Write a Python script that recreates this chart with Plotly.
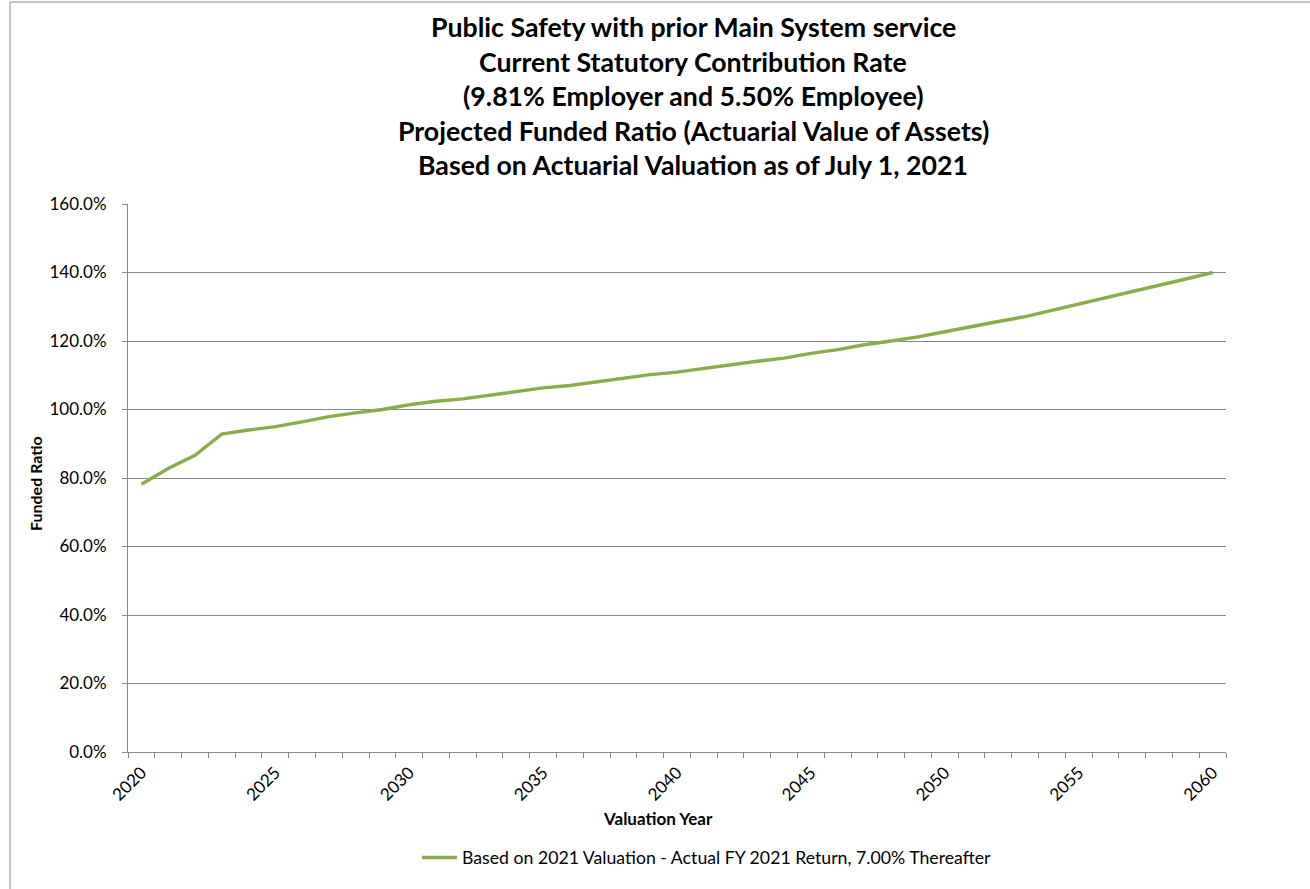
import plotly.graph_objects as go

# Projected funded ratio by valuation year (percent)
years = list(range(2020, 2061))
funded_ratio = [
    78.2, 82.8, 86.6, 92.8, 94.0, 95.0, 96.4, 97.9, 99.0, 100.0,
    101.4, 102.4, 103.1, 104.1, 105.2, 106.3, 107.0, 108.1, 109.2, 110.2,
    110.9, 112.0, 113.1, 114.1, 115.0, 116.4, 117.5, 118.9, 120.0, 121.2,
    122.7, 124.3, 125.7, 127.1, 128.9, 130.8, 132.6, 134.4, 136.3, 138.1,
    140.0,
]
x_tick_years = [2020, 2025, 2030, 2035, 2040, 2045, 2050, 2055, 2060]
y_ticks = [0, 20, 40, 60, 80, 100, 120, 140, 160]
series_name = "Based on 2021 Valuation - Actual FY 2021 Return, 7.00% Thereafter"
title_lines = [
    "Public Safety with prior Main System service",
    "Current Statutory Contribution Rate",
    "(9.81% Employer and 5.50% Employee)",
    "Projected Funded Ratio (Actuarial Value of Assets)",
    "Based on Actuarial Valuation as of July 1, 2021",
]

FONT = "Lato"
GRID = "#888888"
LINE = "#8AAC4B"

W, H = 1310, 889
L, R, T, B = 128, 84, 204, 137
pw, ph = W - L - R, H - T - B


def px_x(p):
    return (p - L) / pw


def px_y(p):
    return (H - B - p) / ph


fig = go.Figure()
fig.add_trace(go.Scatter(
    x=years, y=funded_ratio, mode="lines", name=series_name,
    line=dict(color=LINE, width=3.4),
))

annotations = []
for i, line in enumerate(title_lines):
    annotations.append(dict(
        text=f"<b>{line}</b>", x=px_x(693), y=px_y(27 + i * 34.6),
        xref="paper", yref="paper", showarrow=False,
        xanchor="center", yanchor="middle",
        font=dict(family=FONT, size=26.7, color="#000000"),
    ))
annotations.append(dict(
    text="<b>Funded Ratio</b>", x=px_x(35), y=px_y(484), textangle=-90,
    xref="paper", yref="paper", showarrow=False,
    xanchor="center", yanchor="middle",
    font=dict(family=FONT, size=16, color="#000000"),
))
annotations.append(dict(
    text="<b>Valuation Year</b>", x=px_x(658), y=px_y(818),
    xref="paper", yref="paper", showarrow=False,
    xanchor="center", yanchor="middle",
    font=dict(family=FONT, size=17, color="#000000"),
))

fig.update_layout(
    width=W, height=H,
    margin=dict(l=L, r=R, t=T, b=B),
    paper_bgcolor="white", plot_bgcolor="white",
    showlegend=True,
    legend=dict(
        orientation="h", x=px_x(707), y=px_y(858),
        xanchor="center", yanchor="middle",
        font=dict(family=FONT, size=17.7, color="#000000"),
        itemwidth=35,
    ),
    annotations=annotations,
    shapes=[
        dict(type="line", xref="paper", yref="paper",
             x0=px_x(10), x1=px_x(1310), y0=px_y(2), y1=px_y(2),
             line=dict(color="#8c8c8c", width=1)),
        dict(type="line", xref="paper", yref="paper",
             x0=px_x(10), x1=px_x(10), y0=px_y(2), y1=px_y(889),
             line=dict(color="#8c8c8c", width=1)),
    ],
)

fig.update_xaxes(
    range=[2019.5, 2060.5],
    tickmode="array", tickvals=x_tick_years,
    ticktext=[str(y) for y in x_tick_years],
    tickangle=-45,
    ticks="", showgrid=False,
    minor=dict(ticks="outside", tick0=2019.5, dtick=1, ticklen=5,
               tickcolor=GRID, tickwidth=1, showgrid=False),
    showline=True, linecolor=GRID, linewidth=1,
    tickfont=dict(family=FONT, size=17, color="#000000"),
    ticklabelstandoff=3,
    zeroline=False,
)
fig.update_yaxes(
    range=[0, 160],
    tickmode="array", tickvals=y_ticks,
    ticktext=[f"{v:.1f}%" for v in y_ticks],
    ticks="outside", ticklen=5, tickcolor=GRID, tickwidth=1,
    ticklabelstandoff=12,
    showgrid=True, gridcolor=GRID, gridwidth=1,
    showline=True, linecolor=GRID, linewidth=1,
    tickfont=dict(family=FONT, size=17, color="#000000"),
    zeroline=False,
)

fig.write_html("out.html")
